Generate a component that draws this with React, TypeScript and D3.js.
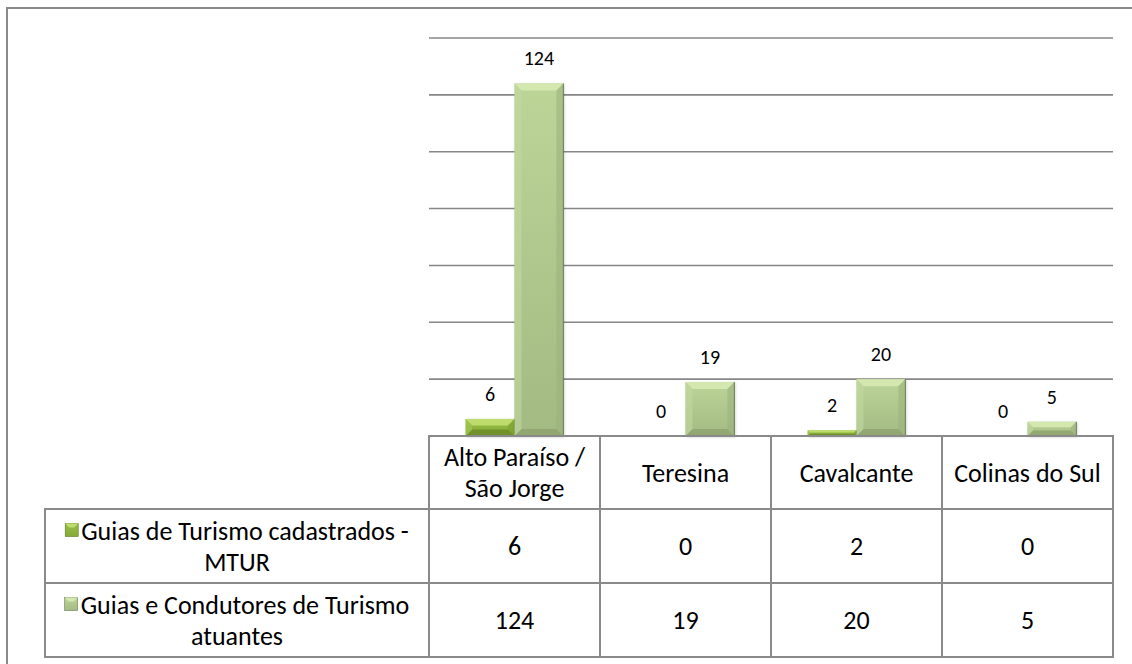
import React, { useLayoutEffect, useRef, useState } from 'react';
import * as d3 from 'd3';

// chart values
const categoryLines = [['Alto Paraíso /', 'São Jorge'], ['Teresina'], ['Cavalcante'], ['Colinas do Sul']];
const categories = categoryLines.map(l => l.join(' '));
const seriesLines = [['Guias de Turismo cadastrados -', 'MTUR'], ['Guias e Condutores de Turismo', 'atuantes']];
const mturValues = [6, 0, 2, 0];
const atuantesValues = [124, 19, 20, 5];
const yTicks = [0, 20, 40, 60, 80, 100, 120, 140];

const seriesValues = [mturValues, atuantesValues];

const W = 1132;
const H = 664;
const FONT = 'Calibri, Carlito, Lato, sans-serif';
const TABLE_FS = 26;
const LABEL_FS = 20;
const LINE = 31;

// colours per series: face gradient top/bottom, bevel top, bottom, left, right
const palettes = [
  { top: '#98BE47', bot: '#86AA37', hi: '#BEDC6C', lo: '#6A8A28', lf: '#A4C856', rt: '#7C9C31', edge: '#5E7A22' },
  { top: '#BCD597', bot: '#A3BA83', hi: '#D3E7AF', lo: '#8DA16E', lf: '#C2D9A0', rt: '#9DB37E', edge: '#6B7D52' },
];

const plot = { left: 429, right: 1113, top: 38, base: 436 };
const table = { legendLeft: 45, rowTops: [436, 509, 583, 657] };

const Bar = ({ x, y, w, h, p, id }) => {
  const b = Math.min(7, h / 2.6, w / 4);
  const pts = arr => arr.map(d => d.join(',')).join(' ');
  return (
    <g>
      <rect x={x + 1} y={y + 1} width={w} height={h} fill="#000" opacity={0.2} filter="url(#shadow)" />
      <rect x={x} y={y} width={w} height={h} fill={`url(#grad${id})`} />
      {h > 0 && (
        <>
          <polygon points={pts([[x, y], [x + w, y], [x + w - b, y + b], [x + b, y + b]])} fill={p.hi} />
          <polygon points={pts([[x, y + h], [x + w, y + h], [x + w - b, y + h - b], [x + b, y + h - b]])} fill={p.lo} opacity={0.8} />
          <polygon points={pts([[x, y], [x + b, y + b], [x + b, y + h - b], [x, y + h]])} fill={p.lf} opacity={0.6} />
          <polygon points={pts([[x + w, y], [x + w - b, y + b], [x + w - b, y + h - b], [x + w, y + h]])} fill={p.rt} opacity={0.6} />
          <line x1={x + w} x2={x + w} y1={y} y2={y + h} stroke={p.edge} strokeWidth={1} />
        </>
      )}
    </g>
  );
};

const App = () => {
  const x = d3.scaleBand().domain(categories).range([plot.left, plot.right]).padding(0);
  const xs = d3.scaleBand().domain(['0', '1']).range([0, x.bandwidth()]).paddingInner(0).paddingOuter(0.75);
  const y = d3.scaleLinear().domain([0, 140]).range([plot.base, plot.top]);

  const rt = table.rowTops;
  const grey = '#8A8A8A';
  const cx = (table.legendLeft + plot.left) / 2;

  // measure first legend line so the key sits right before it
  const firstRefs = useRef([]);
  const [firstW, setFirstW] = useState([300, 300]);
  useLayoutEffect(() => {
    const ws = firstRefs.current.map(el => (el ? el.getComputedTextLength() : 300));
    if (ws.some((w, i) => Math.abs(w - firstW[i]) > 0.5)) setFirstW(ws);
  });

  return (
    <div style={{ position: 'absolute', left: 0, top: 0 }}>
      <svg width={W} height={H} style={{ display: 'block', background: '#fff' }}>
        <defs>
          <filter id="shadow" x="-20%" y="-20%" width="140%" height="140%">
            <feGaussianBlur stdDeviation="1.5" />
          </filter>
          {palettes.map((p, i) => (
            <linearGradient key={i} id={`grad${i}`} x1="0" y1="0" x2="0" y2="1">
              <stop offset="0" stopColor={p.top} />
              <stop offset="1" stopColor={p.bot} />
            </linearGradient>
          ))}
        </defs>

        {/* outer frame */}
        <rect x={7} y={8} width={W + 20} height={H + 20} fill="none" stroke={grey} strokeWidth={2} />

        {/* gridlines */}
        {yTicks.filter(t => t > 0).map(t => (
          <line key={t} x1={plot.left} x2={plot.right} y1={y(t)} y2={y(t)} stroke="#878787" strokeWidth={1.6} />
        ))}

        {/* bars */}
        {categories.map((c, ci) =>
          seriesValues.map((vals, si) => {
            const bx = x(c) + xs(String(si));
            const by = y(vals[ci]);
            return (
              <Bar key={c + si} x={bx} y={by} w={xs.bandwidth()} h={plot.base - by} p={palettes[si]} id={si} />
            );
          })
        )}

        {/* data labels */}
        {categories.map((c, ci) =>
          seriesValues.map((vals, si) => (
            <text
              key={'l' + c + si}
              x={x(c) + xs(String(si)) + xs.bandwidth() / 2}
              y={y(vals[ci]) - 18}
              textAnchor="middle"
              fontFamily={FONT}
              fontSize={LABEL_FS}
              fill="#000"
            >
              {vals[ci]}
            </text>
          ))
        )}

        {/* data table */}
        <g stroke={grey} strokeWidth={2} fill="none">
          <rect x={plot.left} y={rt[0]} width={plot.right - plot.left} height={rt[3] - rt[0]} />
          <rect x={table.legendLeft} y={rt[1]} width={plot.right - table.legendLeft} height={rt[3] - rt[1]} />
          <line x1={table.legendLeft} x2={plot.right} y1={rt[2]} y2={rt[2]} />
          <line x1={plot.left} x2={plot.left} y1={rt[0]} y2={rt[3]} />
          {categories.slice(1).map(c => (
            <line key={c} x1={x(c)} x2={x(c)} y1={rt[0]} y2={rt[3]} />
          ))}
        </g>

        {/* header row */}
        {categories.map((c, ci) => {
          const lines = categoryLines[ci];
          const cy = (rt[0] + rt[1]) / 2;
          return lines.map((ln, li) => (
            <text
              key={c + li}
              x={x(c) + x.bandwidth() / 2}
              y={cy + (li - (lines.length - 1) / 2) * LINE}
              dy="0.35em"
              textAnchor="middle"
              fontFamily={FONT}
              fontSize={TABLE_FS}
              fill="#000"
            >
              {ln}
            </text>
          ));
        })}

        {/* series rows */}
        {seriesValues.map((vals, si) => {
          const cy = (rt[si + 1] + rt[si + 2]) / 2;
          const p = palettes[si];
          const keyW = 13;
          const gap = 3;
          const startX = cx - (keyW + gap + firstW[si]) / 2;
          const kx = startX;
          const ky = cy - LINE / 2 - 7;
          return (
            <g key={'row' + si}>
              <text
                ref={el => (firstRefs.current[si] = el)}
                x={startX + keyW + gap}
                y={cy - LINE / 2}
                dy="0.35em"
                fontFamily={FONT}
                fontSize={TABLE_FS}
                fill="#000"
              >
                {seriesLines[si][0]}
              </text>
              <text x={cx} y={cy + LINE / 2} dy="0.35em" textAnchor="middle" fontFamily={FONT} fontSize={TABLE_FS} fill="#000">
                {seriesLines[si][1]}
              </text>
              <rect x={kx} y={ky} width={keyW} height={keyW} fill={`url(#grad${si})`} stroke={p.edge} strokeWidth={0.6} />
              <polygon points={`${kx},${ky} ${kx + keyW},${ky} ${kx + keyW - 4},${ky + 4} ${kx + 4},${ky + 4}`} fill={p.hi} />
              {vals.map((v, ci) => (
                <text
                  key={ci}
                  x={x(categories[ci]) + x.bandwidth() / 2}
                  y={cy}
                  dy="0.35em"
                  textAnchor="middle"
                  fontFamily={FONT}
                  fontSize={TABLE_FS}
                  fill="#000"
                >
                  {v}
                </text>
              ))}
            </g>
          );
        })}
      </svg>
    </div>
  );
};

export default App;
